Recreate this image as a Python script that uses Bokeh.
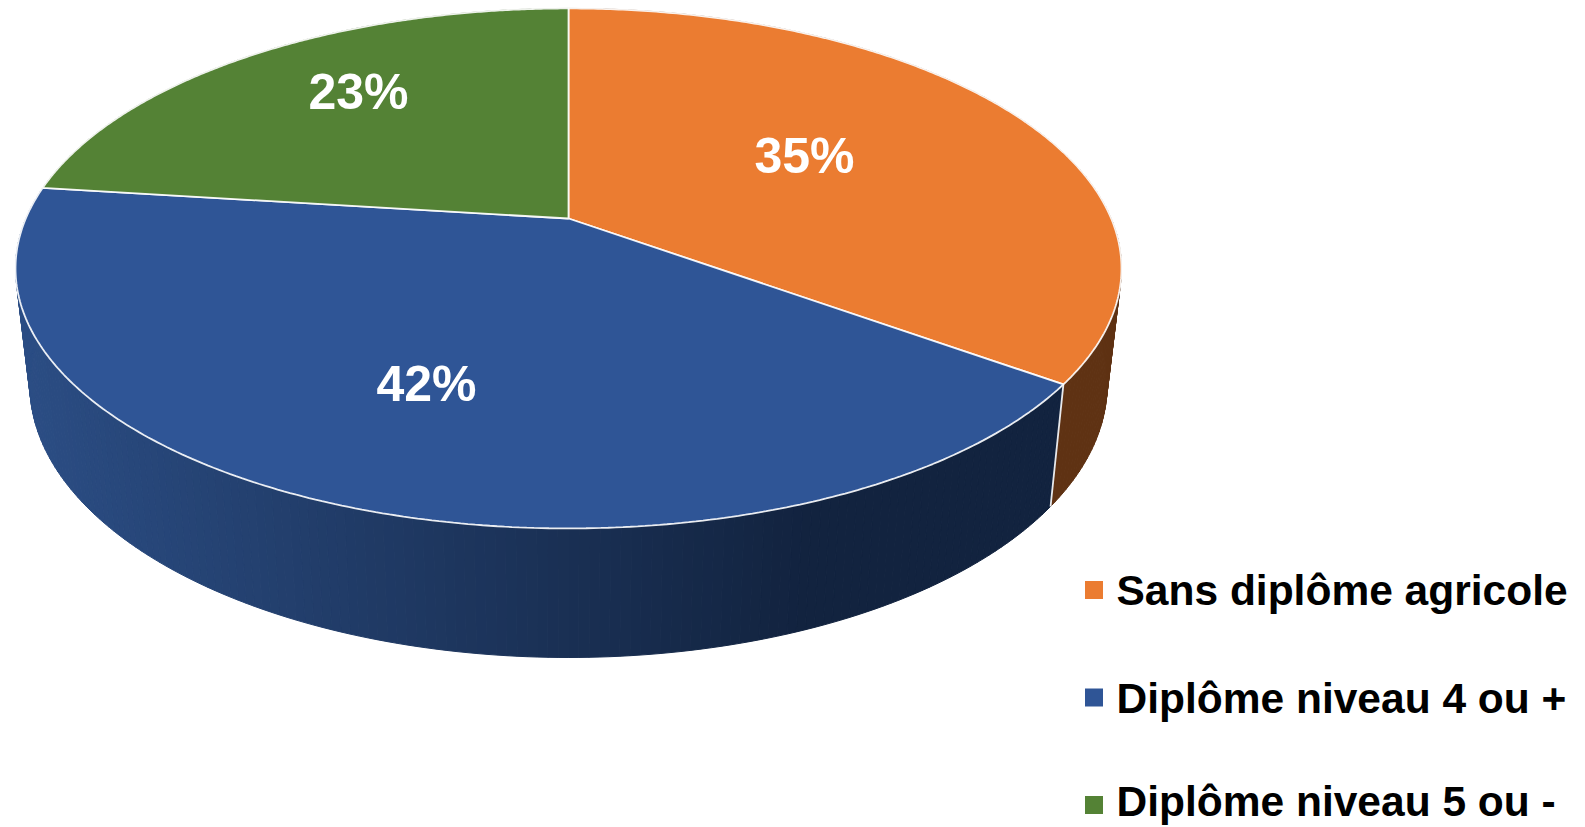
import numpy as np
from bokeh.plotting import figure
from bokeh.models import Range1d
from bokeh.core.properties import value
from bokeh.embed import file_html
from bokeh.resources import INLINE

# --- data ---
categories = ["Sans diplôme agricole", "Diplôme niveau 4 ou +", "Diplôme niveau 5 ou -"]
shares = [35, 42, 23]
labels = [f"{s}%" for s in shares]

# --- styles ---
top_colors = ["#EB7C31", "#2F5596", "#548235"]
side_light = ["#5F3213", "#2B4D84", "#33501F"]
side_dark = ["#5F3213", "#12233F", "#33501F"]

# --- geometry (pixels of the page picture) ---
CX, K = 568.0, 0.192
TOP = dict(cx=CX, cy=218.0, a=542.7, b=250.4)
BOT = dict(cx=CX, cy=332.0, a=528.6, b=262.6)
LABEL_POS = [(804, 155), (426, 383), (358, 91)]
LEG_X_SQ, LEG_X_TXT = 1093.5, 1116
LEG_Y_SQ = [589.5, 697, 804.5]
LEG_Y_TXT = [590, 698, 801]


def project(t, g, r=1.0):
    u, v = r * np.sin(t), r * np.cos(t)
    w = 1 + K * v
    return g["cx"] + g["a"] * u / w, g["cy"] - g["b"] * v / w


p = figure(width=1585, height=827, x_range=Range1d(0, 1585), y_range=Range1d(827, 0),
           output_backend="svg", toolbar_location=None, min_border=0,
           outline_line_color=None, background_fill_color="white", border_fill_color="white")
p.axis.visible = False
p.grid.visible = False

fr = np.cumsum([0] + shares) / sum(shares) * 2 * np.pi

# side wall
xs, ys, cs = [], [], []
for i in range(len(shares)):
    n = max(int((fr[i + 1] - fr[i]) / (2 * np.pi) * 400), 2)
    ts = np.linspace(fr[i], fr[i + 1], n + 1)
    cl = np.array([int(side_light[i][j:j + 2], 16) for j in (1, 3, 5)], float)
    cd = np.array([int(side_dark[i][j:j + 2], 16) for j in (1, 3, 5)], float)
    for a, b in zip(ts[:-1], ts[1:]):
        x1, y1 = project(a, TOP)
        x2, y2 = project(b, TOP)
        x3, y3 = project(b, BOT)
        x4, y4 = project(a, BOT)
        f = np.clip(((x3 + x4) / 2 - 30) / (800 - 30), 0, 1)
        c = cl + (cd - cl) * f
        xs.append([x1, x2, x3, x4])
        ys.append([y1, y2, y3, y4])
        cs.append("#%02x%02x%02x" % tuple(int(round(q)) for q in c))
p.patches(xs, ys, fill_color=cs, line_color=cs, line_width=1)

# white edge between the side walls
for i in range(len(shares)):
    if np.cos(fr[i]) > 0:
        continue
    x1, y1 = project(fr[i], TOP)
    x2, y2 = project(fr[i], BOT)
    p.line([x1, x2], [y1, y2], line_color="white", line_width=1.8, line_alpha=0.9)

# top face
for i in range(len(shares)):
    ts = np.linspace(fr[i], fr[i + 1], 240)
    x, y = project(ts, TOP)
    x = np.concatenate([[CX], x])
    y = np.concatenate([[TOP["cy"]], y])
    p.patch(x, y, fill_color=top_colors[i], line_color="white", line_width=1.8, line_alpha=0.9)

# value labels
p.text([q[0] for q in LABEL_POS], [q[1] for q in LABEL_POS], text=labels, text_color="white",
       text_font=value("Liberation Sans"), text_font_style="bold", text_font_size="50px",
       text_align="center", text_baseline="middle")

# legend
p.scatter([LEG_X_SQ] * 3, LEG_Y_SQ, marker="square", size=18, fill_color=top_colors, line_color=None)
p.text([LEG_X_TXT] * 3, LEG_Y_TXT, text=categories, text_color="black",
       text_font=value("Liberation Sans"), text_font_style="bold", text_font_size="42.5px",
       text_align="left", text_baseline="alphabetic")

open("out.html", "w").write(file_html(p, INLINE))
